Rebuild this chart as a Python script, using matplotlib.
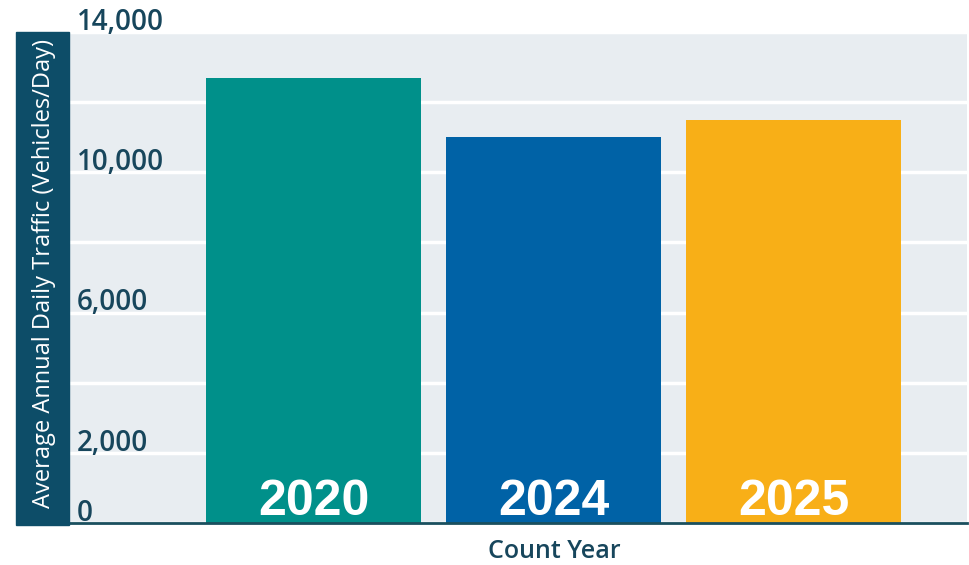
import matplotlib
matplotlib.use("Agg")
import matplotlib.pyplot as plt
from matplotlib.patches import Rectangle
from matplotlib.transforms import blended_transform_factory

years = ["2020", "2024", "2025"]
traffic = [12700, 11000, 11500]
bar_colors = ["#00908A", "#0062A6", "#F8AF17"]
grid_values = [0, 2000, 4000, 6000, 8000, 10000, 12000, 14000]
label_values = [0, 2000, 6000, 10000, 14000]

navy = "#0D4D68"
text_col = "#17465C"

fig = plt.figure(figsize=(9.69, 5.65), dpi=100)
ax = fig.add_axes([69 / 969, 1 - 523 / 565, 898 / 969, 491 / 565])
ax.set_facecolor("#E8EDF1")

x = range(len(years))
ax.bar(x, traffic, width=0.896, color=bar_colors, zorder=3)
ax.set_xlim(-1.019, 2.723)
ax.set_ylim(0, 14000)

ax.set_yticks(grid_values)
ax.yaxis.grid(True, color="white", linewidth=2.5, zorder=1)
ax.set_axisbelow(True)
ax.tick_params(left=False, bottom=False, labelleft=False, labelbottom=False)
for s in ["top", "right", "left"]:
    ax.spines[s].set_visible(False)
ax.spines["bottom"].set_color("#1A4F5E")
ax.spines["bottom"].set_linewidth(2)
ax.spines["bottom"].set_zorder(4)

# tick labels inside the plot
trans = blended_transform_factory(ax.transAxes, ax.transData)
for v in label_values:
    ax.text(8 / 898, v + 60, f"{v:,}", transform=trans, ha="left", va="baseline",
            fontsize=20, color=text_col, family="Open Sans", fontweight="semibold",
            zorder=5, clip_on=False)

# year labels on bars
for i, y in enumerate(years):
    ax.text(i, 230, y, ha="center", va="baseline", fontsize=36, color="white",
            fontweight="bold", family="Liberation Sans", zorder=5)

# navy band with y label
fig.patches.append(Rectangle((16 / 969, 1 - 525 / 565), 53 / 969, 493 / 565,
                             transform=fig.transFigure, color=navy, zorder=0))
fig.text(44 / 969, 1 - 273 / 565, "Average Annual Daily Traffic (Vehicles/Day)",
         rotation=90, ha="center", va="center", color="white", fontsize=17,
         family="Open Sans")

fig.text(554 / 969, 1 - 552 / 565, "Count Year", ha="center", va="center",
         color=text_col, fontsize=18, fontweight="semibold", family="Open Sans")

fig.savefig("out.png", dpi=100)
